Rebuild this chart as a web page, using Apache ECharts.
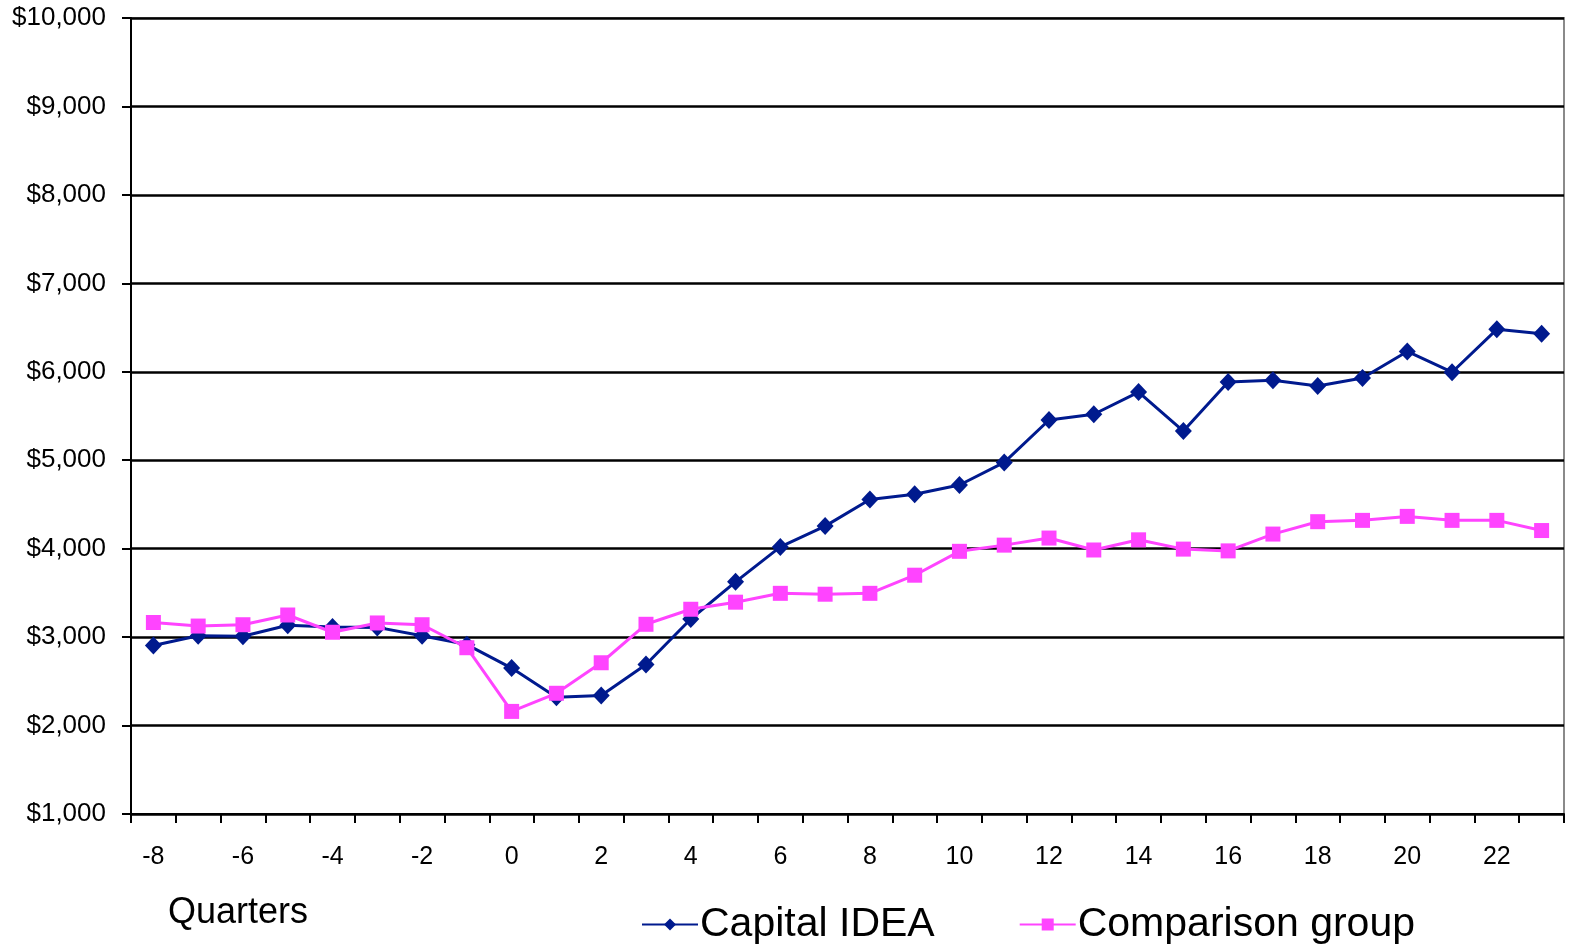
<!DOCTYPE html>
<html>
<head>
<meta charset="utf-8">
<title>Capital IDEA vs Comparison group</title>
<script src="https://cdn.jsdelivr.net/npm/echarts@6/dist/echarts.min.js"></script>
<style>
  html, body { margin: 0; padding: 0; background: #fff; }
  #chart { width: 1570px; height: 949px; }
</style>
</head>
<body>
<div id="chart"></div>
<script>
// Quarters relative to program entry
const quarters = [-8, -7, -6, -5, -4, -3, -2, -1, 0, 1, 2, 3, 4, 5, 6, 7, 8, 9, 10, 11, 12, 13, 14, 15, 16, 17, 18, 19, 20, 21, 22, 23];

// Average quarterly earnings, Capital IDEA participants
const capitalIdea = [2905, 3015, 3010, 3135, 3115, 3110, 3015, 2915, 2650, 2320, 2340, 2690, 3205, 3625, 4020, 4255, 4555, 4615, 4720, 4975, 5455, 5520, 5770, 5330, 5885, 5905, 5840, 5930, 6230, 5995, 6480, 6430];

// Average quarterly earnings, comparison group
const comparisonGroup = [3165, 3125, 3140, 3250, 3055, 3160, 3140, 2880, 2160, 2365, 2710, 3145, 3315, 3395, 3495, 3485, 3495, 3700, 3970, 4040, 4120, 3985, 4100, 3995, 3975, 4165, 4305, 4320, 4365, 4320, 4320, 4205];

// Y axis range and step (dollars)
const yMin = 1000, yMax = 10000, yStep = 1000;

const FONT = '"Liberation Sans", Arial, sans-serif';

const chart = echarts.init(document.getElementById('chart'), null, { renderer: 'canvas' });

function dollars(v) {
  return '$' + v.toLocaleString('en-US');
}

chart.setOption({
  animation: false,
  backgroundColor: '#ffffff',
  textStyle: { fontFamily: FONT, color: '#000' },
  title: {
    text: 'Quarters',
    left: 163,
    top: 890,
    textStyle: { fontFamily: FONT, fontSize: 36, fontWeight: 'normal', color: '#000' }
  },
  legend: {
    left: 636,
    top: 899,
    itemWidth: 56,
    itemHeight: 15,
    itemGap: 84,
    textStyle: { fontFamily: FONT, fontSize: 41, color: '#000', padding: [0, 0, 0, -3] },
    data: ['Capital IDEA', 'Comparison group']
  },
  grid: {
    left: 131,
    right: 6,
    top: 18,
    bottom: 135,
    show: true,
    borderColor: '#8a8a8a',
    borderWidth: 2,
    containLabel: false
  },
  xAxis: {
    type: 'category',
    data: quarters,
    boundaryGap: true,
    axisLine: { show: true, lineStyle: { color: '#000', width: 2 } },
    axisTick: { show: true, interval: 0, length: 9, lineStyle: { color: '#000', width: 2 } },
    axisLabel: { interval: 1, fontFamily: FONT, fontSize: 25, color: '#000', margin: 31 },
    splitLine: { show: false }
  },
  yAxis: {
    type: 'value',
    min: yMin,
    max: yMax,
    interval: yStep,
    axisLine: { show: true, lineStyle: { color: '#000', width: 2 } },
    axisTick: { show: true, length: 9, lineStyle: { color: '#000', width: 2 } },
    axisLabel: { fontFamily: FONT, fontSize: 26, color: '#000', margin: 25, formatter: dollars },
    splitLine: { show: true, lineStyle: { color: '#000', width: 2.5 } }
  },
  series: [
    {
      name: 'Capital IDEA',
      type: 'line',
      data: capitalIdea,
      symbol: 'diamond',
      symbolSize: [17, 18],
      showAllSymbol: true,
      lineStyle: { color: '#001A8E', width: 3 },
      itemStyle: { color: '#001A8E' },
      z: 3
    },
    {
      name: 'Comparison group',
      type: 'line',
      data: comparisonGroup,
      symbol: 'rect',
      symbolSize: 15,
      showAllSymbol: true,
      lineStyle: { color: '#FF44FF', width: 3 },
      itemStyle: { color: '#FF44FF' },
      z: 4
    }
  ]
});
</script>
</body>
</html>
